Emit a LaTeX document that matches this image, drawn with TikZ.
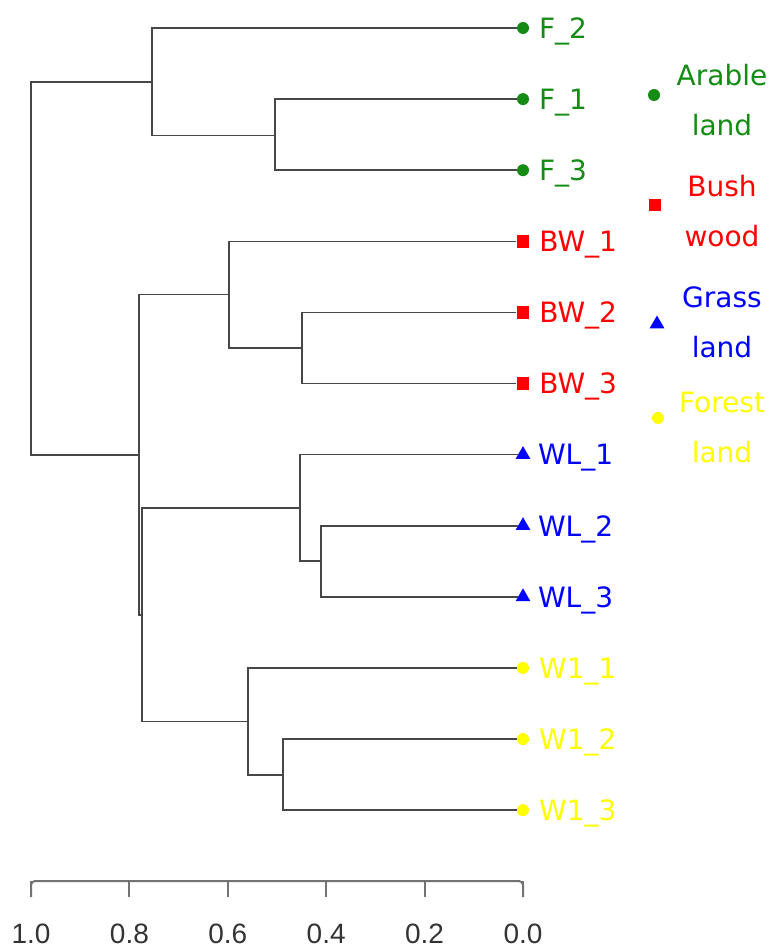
\documentclass[tikz,border=0pt]{standalone}
\usepackage{fontspec}
\setmainfont{DejaVu Sans}
\newfontfamily\axisfont{Liberation Sans}
\usetikzlibrary{shapes.geometric,positioning,calc}

\definecolor{arable}{RGB}{20,140,20}
\definecolor{bush}{RGB}{255,0,0}
\definecolor{grass}{RGB}{0,0,255}
\definecolor{forest}{RGB}{255,255,0}
\newcommand{\tipfont}{\fontsize{14}{16}\selectfont}

\tikzset{
  branch/.style={draw=black!72,line width=0.8pt},
  arablemk/.style={circle,fill=arable,inner sep=0pt,minimum size=6pt},
  bushmk/.style={rectangle,fill=bush,inner sep=0pt,minimum size=6.2pt},
  grassmk/.style={regular polygon,regular polygon sides=3,fill=grass,inner sep=0pt,minimum size=8.5pt},
  forestmk/.style={circle,fill=forest,inner sep=0pt,minimum size=6pt},
  legtext/.style={align=center,font=\fontsize{14}{25}\selectfont,text=#1},
  axisline/.style={draw=black!55,line width=1pt}
}

\begin{document}
\begin{tikzpicture}[x=0.5pt,y=-0.5pt]
  \useasboundingbox (0,0) rectangle (781,947);
  \foreach \n/\lab/\m/\c [count=\i from 0] in {F2/F\_2/arablemk/arable,F1/F\_1/arablemk/arable,
      F3/F\_3/arablemk/arable,BW1/BW\_1/bushmk/bush,BW2/BW\_2/bushmk/bush,BW3/BW\_3/bushmk/bush,
      WL1/WL\_1/grassmk/grass,WL2/WL\_2/grassmk/grass,WL3/WL\_3/grassmk/grass,
      W11/W1\_1/forestmk/forest,W12/W1\_2/forestmk/forest,W13/W1\_3/forestmk/forest}
    \node[\m,label={[text=\c,font=\tipfont,text depth=0pt,label distance=1.3pt]right:\lab}] (\n) at (523,{28+71.1*\i}) {};
  \coordinate (f13) at (275,135.5);
  \coordinate (fall) at (152,81.8);
  \coordinate (bw23) at (302,348);
  \coordinate (bwall) at (229,294.5);
  \coordinate (wl23) at (321,561);
  \coordinate (wlall) at (300,508);
  \coordinate (w23) at (283,775);
  \coordinate (wall) at (248,721.5);
  \coordinate (wlw) at (142,615);
  \coordinate (bwwlw) at (139,455);
  \coordinate (root) at (31,268);
  \draw[branch] (F1) -| (f13) |- (F3);
  \draw[branch] (F2) -| (fall) |- (f13);
  \draw[branch] (BW2) -| (bw23) |- (BW3);
  \draw[branch] (BW1) -| (bwall) |- (bw23);
  \draw[branch] (WL2) -| (wl23) |- (WL3);
  \draw[branch] (WL1) -| (wlall) |- (wl23);
  \draw[branch] (W12) -| (w23) |- (W13);
  \draw[branch] (W11) -| (wall) |- (w23);
  \draw[branch] (wlall) -| (wlw) |- (wall);
  \draw[branch] (bwall) -| (bwwlw) |- (wlw);
  \draw[branch] (fall) -| (root) |- (bwwlw);
  \node[arablemk] (arableleg) at (654,95) {};
  \node[legtext=arable] (arabletxt) at (722,100) {Arable\\land};
  \node[bushmk] (bushleg) at (655,205) {};
  \node[legtext=bush] (bushtxt) at (722,211) {Bush\\wood};
  \node[grassmk] (grassleg) at (657,324) {};
  \node[legtext=grass] (grasstxt) at (722,322) {Grass\\land};
  \node[forestmk] (forestleg) at (658,418) {};
  \node[legtext=forest] (foresttxt) at (722,427) {Forest\\land};
  \draw[axisline,rounded corners=2pt] (31,897) |- (523,881) -- ++(0,16);
  \foreach \v [count=\k] in {1.0,0.8,0.6,0.4,0.2,0.0} {
    \draw[axisline] ({523-492*\v},881) -- ++(0,16);
    \node[font=\axisfont\fontsize{14}{16}\selectfont,text=black!80,text depth=0pt,inner sep=0pt] (tick\k) at ({523-492*\v},934) {\v};
  }
\end{tikzpicture}
\end{document}
